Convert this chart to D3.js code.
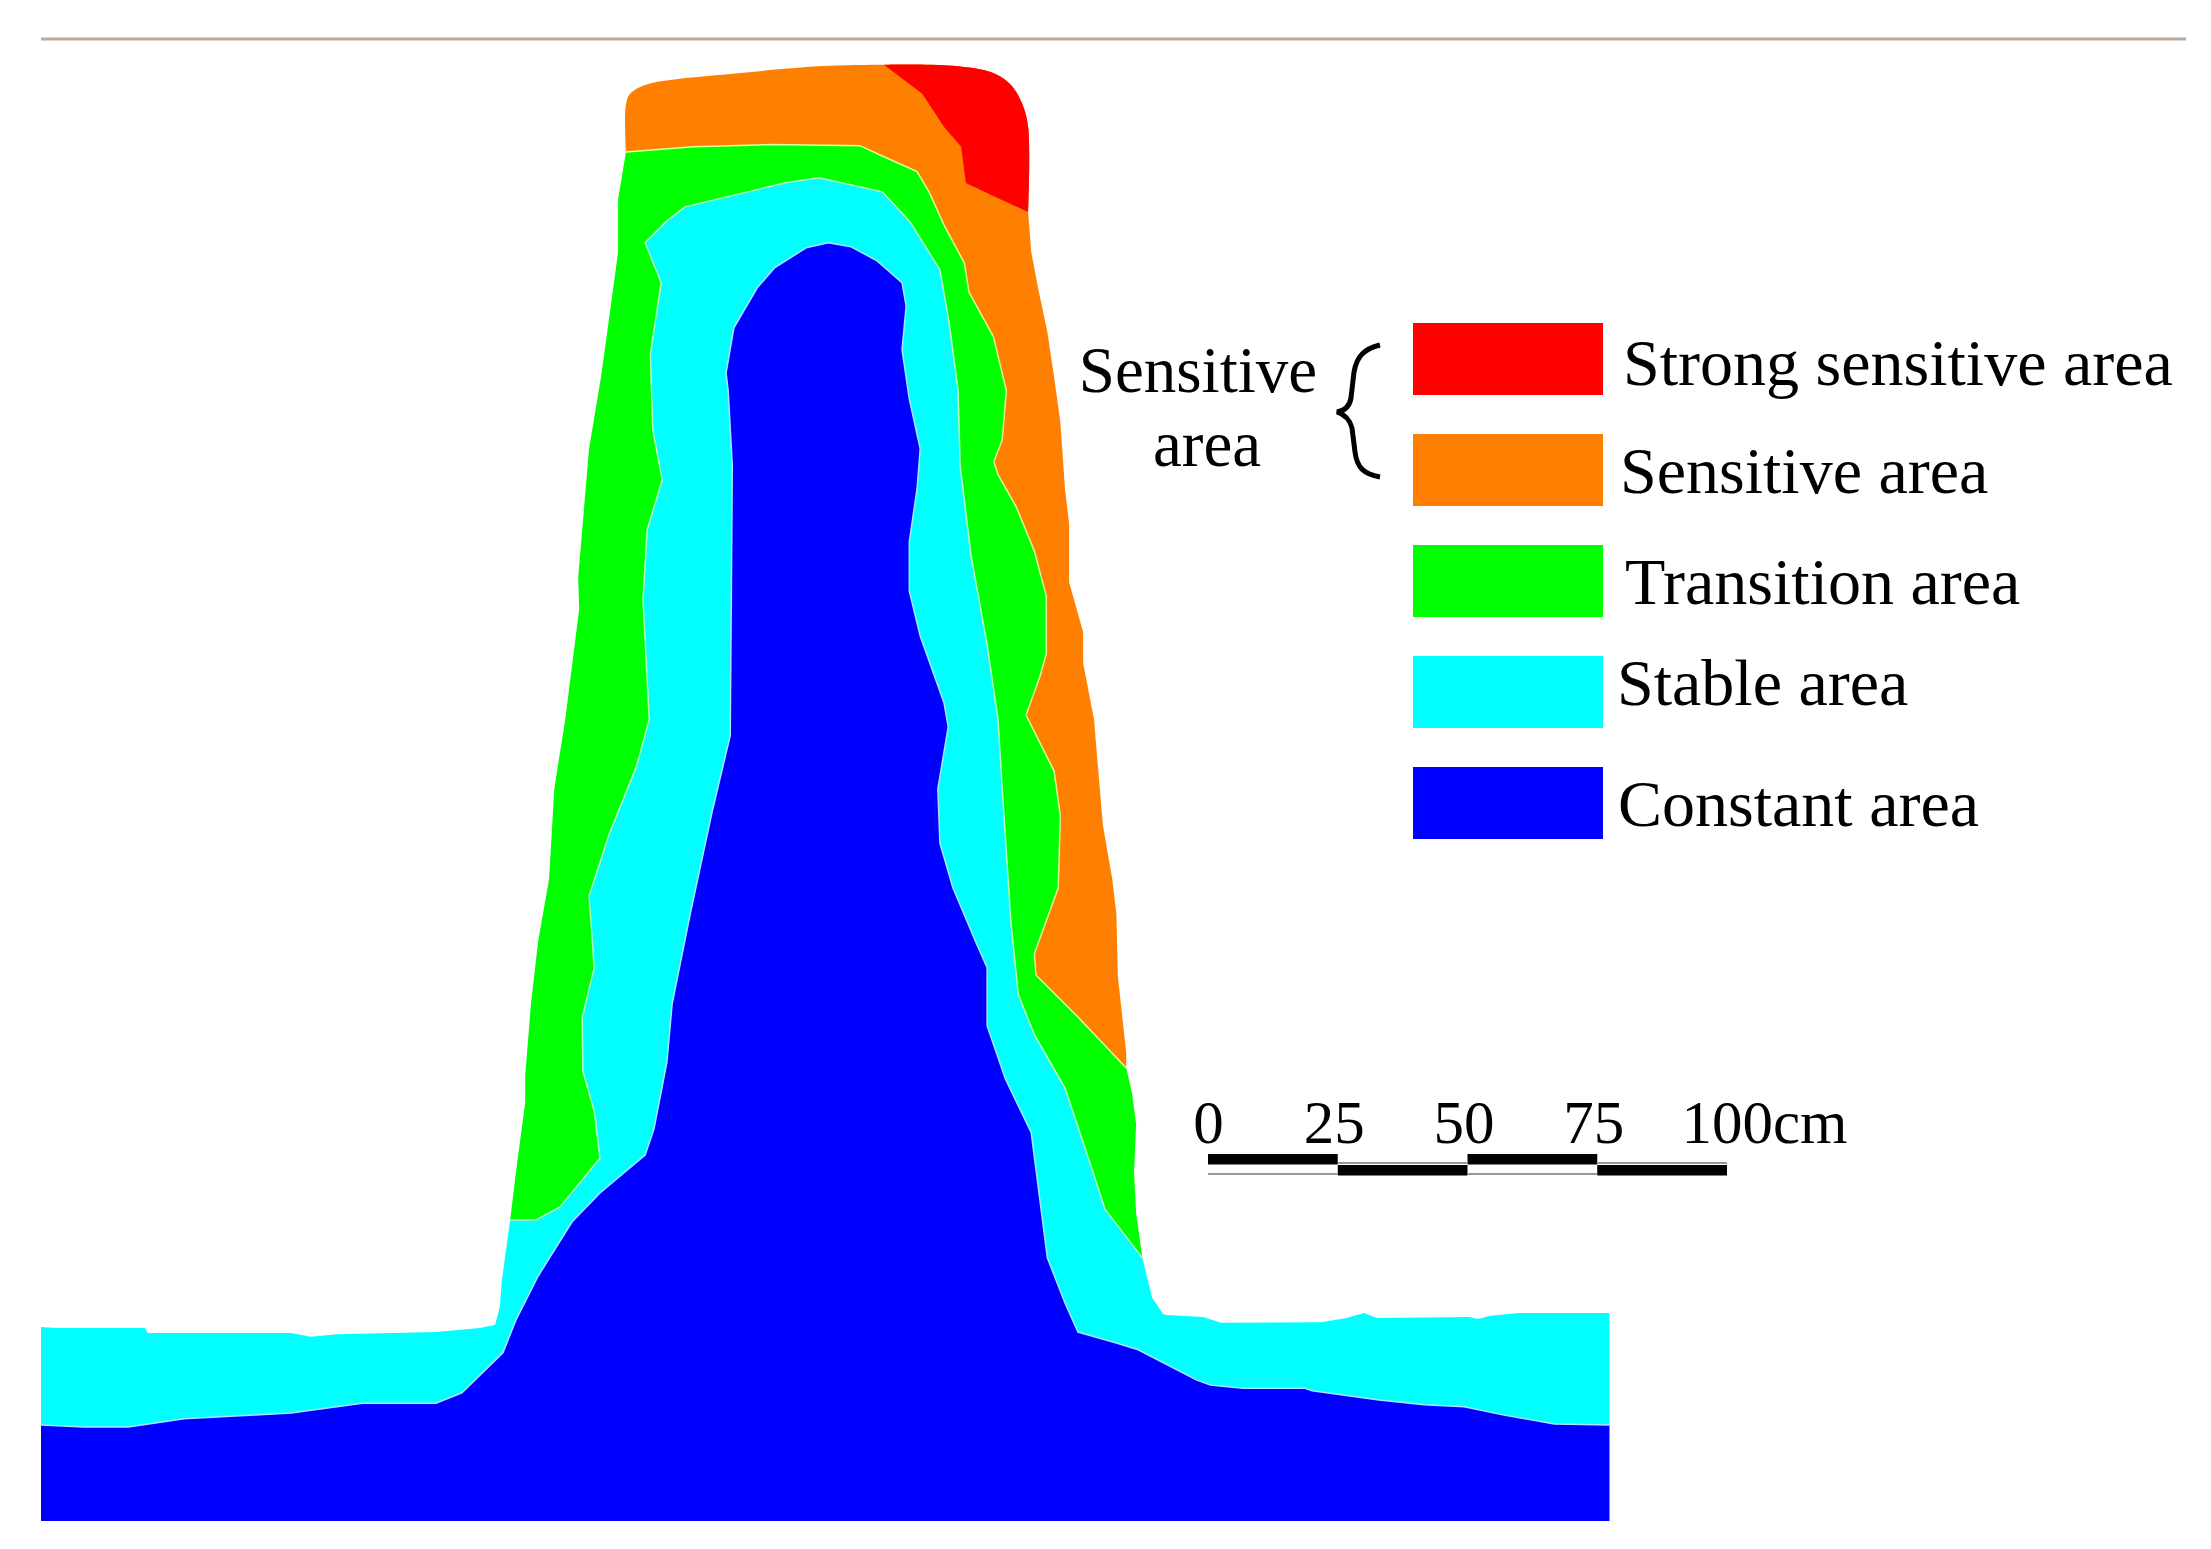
<!DOCTYPE html>
<html>
<head>
<meta charset="utf-8">
<script src="https://cdn.jsdelivr.net/npm/d3@7"></script>
<style>
  html, body { margin: 0; background: #fff; }
  text { font-family: "Liberation Serif", serif; fill: #000; }
</style>
</head>
<body>
<svg id="chart"></svg>
<script>
// zones, all outlines in cm: [distance from left edge, height above base]
const zoneNames = ["Strong sensitive area", "Sensitive area", "Transition area", "Stable area", "Constant area"];
const zoneColors = ["#ff0000", "#ff8000", "#00ff00", "#00ffff", "#0000ff"];
const scaleTicks = [0, 25, 50, 75, 100];

const crestLeft = [[112.7,263.8],[112.7,272.9],[113.5,275.0],[116.4,276.7],[121.6,277.7],[132.8,278.8],[143.2,279.8],[151.7,280.4],[162.4,280.6]];
const crestRight = [[162.4,280.6],[175.7,280.4],[183.5,279.0],[186.9,276.7],[189.0,273.2],[190.2,268.6],[190.2,252.2]];
const strongEdge = [[162.4,280.6],[169.8,275.0],[174.0,268.6],[177.3,264.8],[178.2,257.8],[183.5,255.3],[190.2,252.2]];
const sensitiveOuter = [[190.2,252.2],[190.8,244.5],[192.1,237.6],[193.9,229.1],[195.2,220.4],[196.4,211.8],[197.3,198.9],[198.1,192.1],[198.1,180.9],[200.8,171.3],[200.8,165.3],[202.9,154.4],[203.3,149.5],[204.6,134.1],[206.4,123.7],[207.2,117.0],[207.5,104.8],[209.1,90.2],[209.1,87.3]];
const sensitiveEdge = [[112.7,263.8],[125.8,264.8],[140.5,265.2],[157.8,265.0],[162.1,263.0],[168.8,260.0],[171.1,256.1],[174.0,249.7],[177.9,242.4],[178.8,236.8],[183.5,228.2],[186.0,217.8],[185.2,208.3],[183.6,204.1],[184.4,201.6],[187.9,195.4],[191.4,186.9],[193.7,178.2],[193.7,167.1],[192.5,162.8],[189.8,155.3],[195.2,144.5],[196.4,135.9],[196.0,122.0],[191.4,109.3],[191.7,105.2],[199.8,97.1],[209.1,87.3]];
const transitionRight = [[209.1,87.3],[210.2,82.5],[211.0,76.5],[210.6,67.1],[211.0,59.4],[212.2,50.7]];
const transitionLeft = [[90.4,58.0],[91.5,67.1],[93.3,80.7],[93.3,85.9],[94.4,99.6],[95.8,111.8],[97.9,123.7],[98.9,141.1],[101.0,154.4],[103.7,175.7],[103.5,181.7],[105.6,206.6],[107.9,220.4],[109.1,229.1],[111.2,244.5],[111.2,254.7],[112.7,263.8]];
const transitionEdge = [[90.4,58.0],[95.4,58.0],[100.0,60.5],[107.7,69.9],[106.6,79.0],[104.4,86.7],[104.3,97.1],[106.6,106.6],[105.6,120.4],[109.5,132.4],[114.7,145.3],[117.2,154.4],[116.0,177.5],[116.8,191.0],[119.7,200.6],[117.9,210.2],[117.4,224.7],[119.5,238.6],[116.4,246.3],[120.6,250.5],[124.1,253.2],[143.2,257.8],[149.9,258.8],[162.1,256.1],[167.3,250.5],[173.2,241.1],[175.0,230.7],[176.7,217.8],[177.1,203.3],[179.2,186.0],[182.3,168.8],[184.4,154.4],[185.2,141.1],[186.9,115.2],[188.3,101.4],[191.4,93.7],[197.3,83.4],[201.6,70.5],[205.0,60.1],[212.2,50.7]];
const stableLeft = [[0,37.4],[2.9,37.2],[20.0,37.2],[20.6,36.2],[48.2,36.2],[52.0,35.5],[57.0,36.0],[76.1,36.4],[84.6,37.2],[87.5,37.8],[88.4,41.2],[88.8,46.4],[90.4,58.0]];
const stableRight = [[212.2,50.7],[214.1,43.0],[216.2,39.9],[216.8,39.7],[223.9,39.3],[227.4,38.2],[246.7,38.3],[251.5,39.1],[254.9,40.1],[257.4,39.1],[275.2,39.3],[276.9,38.9],[279.0,39.5],[284.6,40.1],[302.2,40.1]];
const constantEdge = [[0,18.5],[8.3,18.1],[16.8,18.1],[27.6,19.7],[48.2,20.8],[61.9,22.7],[76.1,22.7],[81.1,24.7],[89.0,32.4],[91.5,38.7],[95.8,47.2],[102.3,57.6],[107.7,63.2],[116.4,70.5],[118.1,75.5],[120.6,88.4],[121.6,99.6],[125.1,117.0],[129.3,136.6],[132.8,151.3],[133.2,203.3],[132.4,217.8],[132.0,221.2],[133.5,229.9],[138.0,237.6],[141.4,241.5],[147.4,245.3],[151.7,246.3],[156.1,245.5],[161.1,242.8],[165.9,238.6],[166.7,234.1],[165.9,225.7],[167.3,216.2],[169.4,206.6],[168.8,198.9],[167.3,188.7],[167.3,179.2],[169.4,170.5],[174.0,157.6],[174.8,153.0],[172.8,141.1],[173.2,130.6],[175.7,122.0],[180.0,111.8],[182.3,106.6],[182.3,95.4],[185.8,85.2],[190.8,74.8],[193.9,50.7],[197.3,42.0],[199.8,36.4],[207.2,34.3],[211.4,33.0],[222.6,27.2],[225.3,26.2],[231.6,25.6],[243.4,25.6],[244.9,25.1],[257.8,23.3],[266.5,22.4],[274.2,22.0],[281.9,20.4],[291.6,18.7],[302.2,18.5]];
const baseLine = [[302.2,0],[0,0]];

const width = 2211,
  height = 1549;
const pxPerCm = 5.19;

const x = d3.scaleLinear().domain([0, 302.2]).range([41, 41 + 302.2 * pxPerCm]);
const y = d3.scaleLinear().domain([0, 280.6]).range([1521, 1521 - 280.6 * pxPerCm]);
const outline = d3.line().x((d) => x(d[0])).y((d) => y(d[1]));
const rounded = d3.line().x((d) => x(d[0])).y((d) => y(d[1])).curve(d3.curveCatmullRom.alpha(0.5));
const rev = (a) => a.slice().reverse();

// the contours are polygonal in the source, only the crest corners are round
const crestRightBack = rev(crestRight);
const roundPieces = [crestLeft, crestRight, crestRightBack];
const zonePath = (pieces) =>
  pieces
    .map((p) => (roundPieces.includes(p) ? rounded(p) : outline(p)))
    .map((s, i) => (i === 0 ? s : "L" + s.slice(1)))
    .join("") + "Z";

const svg = d3.select("#chart").attr("width", width).attr("height", height);

// the source is a soft, resampled scan
const defs = svg.append("defs");
defs.append("filter").attr("id", "soft").append("feGaussianBlur").attr("stdDeviation", 0.7);

const root = svg.append("g").attr("filter", "url(#soft)");

root.append("line")
  .attr("x1", 41).attr("x2", 2186)
  .attr("y1", 39).attr("y2", 39)
  .attr("stroke", "#b8aa9c")
  .attr("stroke-width", 3);

// painted back to front: stable first, the rest on top of it
const zonePolys = [
  { c: 3, pieces: [stableLeft, transitionEdge, stableRight, baseLine] },
  { c: 1, pieces: [crestLeft, crestRight, sensitiveOuter, rev(sensitiveEdge)] },
  { c: 0, pieces: [strongEdge, crestRightBack] },
  { c: 2, pieces: [transitionLeft, sensitiveEdge, transitionRight, rev(transitionEdge)] },
  { c: 4, pieces: [constantEdge, baseLine] },
];

root.selectAll("path.zone")
  .data(zonePolys)
  .enter()
  .append("path")
  .attr("class", "zone")
  .attr("fill", (d) => zoneColors[d.c])
  .attr("d", (d) => zonePath(d.pieces));

// thin pale contour lines between zones
root.selectAll("path.edge")
  .data([
    { pts: sensitiveEdge, col: "#d4ff9a" },
    { pts: transitionEdge, col: "#b4ffb4" },
    { pts: constantEdge, col: "#a8e4ff" },
  ])
  .enter()
  .append("path")
  .attr("class", "edge")
  .attr("fill", "none")
  .attr("stroke", (d) => d.col)
  .attr("stroke-width", 1.5)
  .attr("d", (d) => outline(d.pts));

// legend
const legendY = d3.scaleLinear().domain([0, 4]).range([323, 767]);
const labelX = [1623, 1620, 1625, 1617, 1618];
const labelY = [385, 493, 604, 705, 826];

root.selectAll("rect.swatch")
  .data(zoneNames)
  .enter()
  .append("rect")
  .attr("class", "swatch")
  .attr("x", 1413)
  .attr("y", (d, i) => legendY(i))
  .attr("width", 190)
  .attr("height", 72)
  .attr("fill", (d, i) => zoneColors[i]);

root.selectAll("text.label")
  .data(zoneNames)
  .enter()
  .append("text")
  .attr("class", "label")
  .attr("x", (d, i) => labelX[i])
  .attr("y", (d, i) => labelY[i])
  .style("font-size", "66px")
  .text((d) => d);

root.append("text").attr("x", 1198).attr("y", 392).attr("text-anchor", "middle").style("font-size", "65px").text("Sensitive");
root.append("text").attr("x", 1207).attr("y", 466).attr("text-anchor", "middle").style("font-size", "65px").text("area");

root.append("path")
  .attr("fill", "none")
  .attr("stroke", "#000")
  .attr("stroke-width", 5)
  .attr("d", "M1380,345C1364,349 1357,356 1354,372L1351,398Q1349,410 1337,412Q1349,416 1352,428L1355,452C1357,468 1364,474 1380,477");

// scale bar
const scaleX = d3.scaleLinear().domain([0, 100]).range([1208, 1727]);
const bar = root.append("g");
const segs = d3.pairs(scaleTicks);

bar.selectAll("rect.seg")
  .data(segs)
  .enter()
  .append("rect")
  .attr("class", "seg")
  .attr("x", (d) => scaleX(d[0]))
  .attr("width", (d) => scaleX(d[1]) - scaleX(d[0]))
  .attr("y", (d, i) => (i % 2 ? 1165 : 1154))
  .attr("height", 10.5)
  .attr("fill", "#000");

// hairlines closing the white half of each segment
bar.selectAll("line.rim")
  .data(segs)
  .enter()
  .append("line")
  .attr("class", "rim")
  .attr("x1", (d) => scaleX(d[0]))
  .attr("x2", (d) => scaleX(d[1]))
  .attr("y1", (d, i) => (i % 2 ? 1163 : 1174))
  .attr("y2", (d, i) => (i % 2 ? 1163 : 1174))
  .attr("stroke", "#999")
  .attr("stroke-width", 2);

const scaleAxis = root.append("g")
  .attr("transform", "translate(0,1143)")
  .call(d3.axisTop(scaleX).tickValues(scaleTicks).tickSize(0).tickPadding(0).tickFormat((d) => (d === 100 ? "100cm" : d)));
scaleAxis.select(".domain").remove();
scaleAxis.selectAll("text")
  .attr("y", 0)
  .attr("dy", 0)
  .style("font-size", "61px")
  .style("font-family", '"Liberation Serif", serif')
  .attr("fill", "#000")
  .attr("text-anchor", (d) => (d === 100 ? "start" : "middle"))
  .attr("x", (d) => (d === 100 ? -46 : d === 0 ? 0 : -4));
</script>
</body>
</html>
